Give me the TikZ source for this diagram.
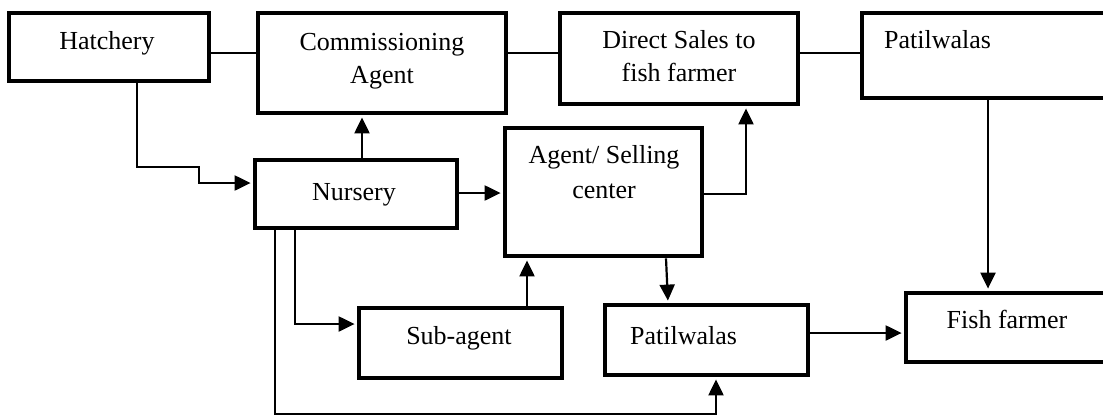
\documentclass[tikz,border=0pt]{standalone}
\usepackage{fontspec}
\setmainfont{Liberation Serif}
\usetikzlibrary{arrows.meta}

\begin{document}
\begin{tikzpicture}[x=1pt, y=-1pt,
    caja/.style={draw, line width=4.8pt, inner sep=0pt},
    texto/.style={font=\fontsize{26}{33}\selectfont, inner sep=0pt, align=center, anchor=base},
    linea/.style={line width=2.2pt},
    flecha/.style={linea, shorten >=2pt, -{Triangle[length=16pt, width=15pt]}}]

        \useasboundingbox (0,0) rectangle (1103,416);
        \clip (0,0) rectangle (1103,416);

        % Cajas de arriba
        \node[caja, minimum width=200pt, minimum height=68pt] (hat) at (109,47) {};
        \node[caja, minimum width=248pt, minimum height=100pt] (com) at (382,63) {};
        \node[caja, minimum width=238pt, minimum height=91pt] (dir) at (679,58.5) {};
        \node[caja, minimum width=253pt, minimum height=85pt] (pat1) at (988.5,55.5) {};

        % Cajas del medio y de abajo
        \node[caja, minimum width=202pt, minimum height=68pt] (nur) at (356,194) {};
        \node[caja, minimum width=197pt, minimum height=128pt] (age) at (603.5,192) {};
        \node[caja, minimum width=203pt, minimum height=70pt] (sub) at (460.5,343) {};
        \node[caja, minimum width=203pt, minimum height=70pt] (pat2) at (706.5,340) {};
        \node[caja, minimum width=206pt, minimum height=69pt] (fis) at (1009,327.5) {};

        % Textos
        \node[texto] (hat-t) at (107,49) {Hatchery};
        \node[texto] (com-t) at (382,83) {Commissioning\\Agent};
        \node[texto] (dir-t) at (679,81) {Direct Sales to\\fish farmer};
        \node[texto, anchor=base west] (pat1-t) at (884,48) {Patilwalas};
        \node[texto] (nur-t) at (354,200) {Nursery};
        \node[texto] (age-t) at (604,198) {Agent/ Selling\\[2pt]center};
        \node[texto] (sub-t) at (459,344) {Sub-agent};
        \node[texto, anchor=base west] (pat2-t) at (630,344) {Patilwalas};
        \node[texto] (fis-t) at (1007,328) {Fish farmer};

        % Conexiones sin flecha
        \coordinate (fila) at (0,53);
        \draw[linea] (hat.east |- fila) -- (com.west |- fila);
        \draw[linea] (com.east |- fila) -- (dir.west |- fila);
        \draw[linea] (dir.east |- fila) -- (pat1.west |- fila);

        % Conexiones con flecha
        \draw[flecha] (hat.south -| 137,0) |- (199,167) |- (nur.west |- 0,183);
        \draw[flecha] (nur.north -| 362,0) -- (com.south -| 362,0);
        \draw[flecha] (nur.east |- 0,193) -- (age.west |- 0,193);
        \draw[flecha] (age.east |- 0,194) -| (dir.south -| 746,0);
        \draw[flecha] (pat1.south -| 988,0) -- (fis.north -| 988,0);
        \draw[flecha] (age.south -| 666,0) -- (pat2.north -| 668,0);
        \draw[flecha] (pat2.east |- 0,333) -- (fis.west |- 0,333);
        \draw[flecha] (nur.south -| 295,0) |- (sub.west |- 0,324);
        \draw[flecha] (sub.north -| 527,0) -- (age.south -| 527,0);
        \draw[flecha] (nur.south -| 275,0) -- (275,414) -| (pat2.south -| 716,0);

    \end{tikzpicture}
\end{document}
